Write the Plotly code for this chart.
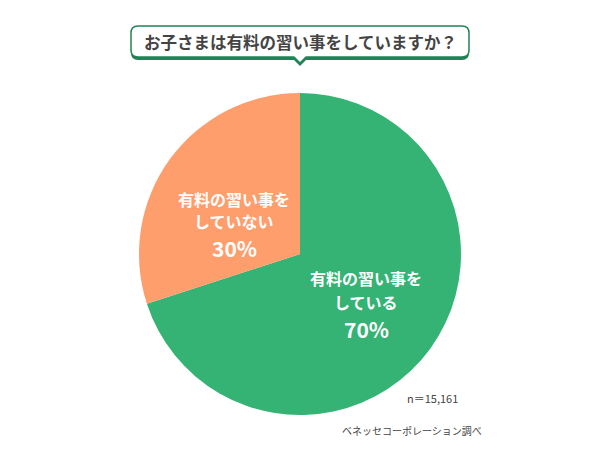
import plotly.graph_objects as go

labels = ["有料の習い事をしている", "有料の習い事をしていない"]
values = [70, 30]
colors = ["#34B374", "#FF9E6D"]
question = "お子さまは有料の習い事をしていますか？"
sample_note = "n＝15,161"
source_note = "ベネッセコーポレーション調べ"

W, H = 600, 460
FONT = "Noto Sans CJK JP"


def px(x):
    return x / W


def py(y):
    return 1 - y / H


fig = go.Figure()
fig.add_trace(
    go.Pie(
        labels=labels,
        values=values,
        marker=dict(colors=colors, line=dict(width=0)),
        sort=False,
        direction="clockwise",
        rotation=0,
        textinfo="none",
        hoverinfo="label+percent",
        domain=dict(x=[px(139), px(461)], y=[py(415), py(93)]),
        showlegend=False,
    )
)


def rounded_rect(x0, y0, x1, y1, r):
    return (
        f"M {px(x0 + r)},{py(y0)} L {px(x1 - r)},{py(y0)} "
        f"Q {px(x1)},{py(y0)} {px(x1)},{py(y0 + r)} "
        f"L {px(x1)},{py(y1 - r)} Q {px(x1)},{py(y1)} {px(x1 - r)},{py(y1)} "
        f"L {px(x0 + r)},{py(y1)} Q {px(x0)},{py(y1)} {px(x0)},{py(y1 - r)} "
        f"L {px(x0)},{py(y0 + r)} Q {px(x0)},{py(y0)} {px(x0 + r)},{py(y0)} Z"
    )


green_dark = "#1F8457"
shapes = [
    # thick bottom border of the question box
    dict(type="path", path=rounded_rect(131, 26, 469, 60, 7),
         fillcolor=green_dark, line=dict(width=0)),
    dict(type="path", path=rounded_rect(131, 26, 469, 57, 7),
         fillcolor="white", line=dict(color=green_dark, width=1.5)),
    # pointer
    dict(type="path",
         path=f"M {px(291)},{py(57)} L {px(300)},{py(66)} L {px(309)},{py(57)} Z",
         fillcolor=green_dark, line=dict(width=0)),
    dict(type="path",
         path=f"M {px(294)},{py(56)} L {px(300)},{py(62)} L {px(306)},{py(56)} Z",
         fillcolor="white", line=dict(width=0)),
]

white_bold = dict(size=16, color="white", family=FONT, weight="bold")
big_bold = dict(size=21, color="white", family=FONT, weight="bold")
annotations = [
    dict(x=px(300), y=py(42), text=question,
         font=dict(size=16.5, color="#444444", family=FONT, weight="bold")),
    dict(x=px(234), y=py(199), text="有料の習い事を", font=white_bold),
    dict(x=px(234), y=py(221), text="していない", font=white_bold),
    dict(x=px(234), y=py(248), text="30%", font=big_bold),
    dict(x=px(366), y=py(278), text="有料の習い事を", font=white_bold),
    dict(x=px(366), y=py(302), text="している", font=white_bold),
    dict(x=px(366), y=py(329), text="70%", font=big_bold),
    dict(x=px(432), y=py(398), text=sample_note,
         font=dict(size=11, color="#444444", family=FONT)),
    dict(x=px(412), y=py(430), text=source_note,
         font=dict(size=10, color="#444444", family=FONT)),
]
for a in annotations:
    a.update(xref="paper", yref="paper", showarrow=False,
             xanchor="center", yanchor="middle")

fig.update_layout(
    width=W,
    height=H,
    margin=dict(l=0, r=0, t=0, b=0),
    paper_bgcolor="white",
    plot_bgcolor="white",
    shapes=shapes,
    annotations=annotations,
    font=dict(family=FONT),
)
fig.write_html(
    "out.html",
    config={"displayModeBar": False},
    post_script="document.body.style.margin='0';",
)
